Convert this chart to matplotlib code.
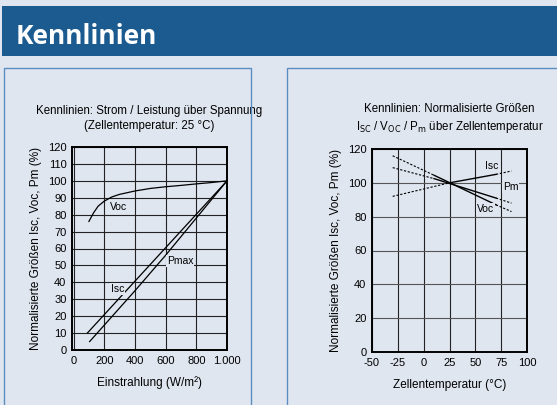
import numpy as np
import matplotlib.pyplot as plt
from matplotlib.patches import Rectangle

plt.rcParams['axes.unicode_minus'] = False

# Einstrahlung (W/m2) -> normalisierte Werte (%)
irr_voc = [100, 130, 160, 200, 250, 300, 400, 500, 600, 700, 800, 900, 1000]
voc = [76, 81, 85, 88, 90.5, 92, 94, 95.5, 96.5, 97.3, 98.2, 99, 100]
irr_isc = [90, 1000]
isc = [10, 100]
irr_pmax = [105, 400, 600, 800, 1000]
pmax = [5, 35, 56, 78, 100]

# Zellentemperatur (°C) -> normalisierte Werte (%)
t_isc_a = [-30, 25]
isc_a = [92, 100]
t_isc_b = [25, 70]
isc_b = [100, 105]
t_isc_c = [70, 85]
isc_c = [105, 107]
t_a = [-30, 10]
pm_a = [109, 102.5]
voc_a = [116, 104.5]
t_b = [10, 70]
pm_b = [102.5, 91]
voc_b = [104.5, 87]
t_c = [70, 85]
pm_c = [91, 88]
voc_c = [87, 83]

W, H = 557, 405
bg = '#dfe6f0'
blue = '#1c5b90'
border = '#5d8dc0'

fig = plt.figure(figsize=(W / 100, H / 100), dpi=100)
fig.patch.set_facecolor(bg)

def px(x, y, w, h):
    return [x / W, (H - y - h) / H, w / W, h / H]

# Kopfband
fig.patches.append(Rectangle((2 / W, 1 - 56 / H), 1, 50 / H, transform=fig.transFigure,
                             facecolor=blue, edgecolor='none'))
fig.text(16 / W, 1 - 37 / H, 'Kennlinien', color='white', fontsize=19, fontweight='bold',
         family='Open Sans', va='center', ha='left')

# Kästen
for x0, x1 in [(4, 251), (287, 600)]:
    fig.patches.append(Rectangle((x0 / W, -0.1), (x1 - x0) / W, 1.1 - 68 / H,
                                 transform=fig.transFigure, facecolor='none',
                                 edgecolor=border, linewidth=1.0))

fnt = 'Liberation Sans'
lbl_box = dict(facecolor=bg, edgecolor='none', pad=0.5)

# linkes Diagramm
ax1 = fig.add_axes(px(72, 147, 155, 203))
ax1.set_facecolor(bg)
ax1.plot(irr_voc, voc, color='black', lw=0.9)
ax1.plot(irr_isc, isc, color='black', lw=0.9)
ax1.plot(irr_pmax, pmax, color='black', lw=0.9)
ax1.set_xlim(-10, 1000)
ax1.set_ylim(0, 120)
ax1.set_xticks([0, 200, 400, 600, 800, 1000])
ax1.set_xticklabels(['0', '200', '400', '600', '800', '1.000'])
ax1.set_yticks(range(0, 121, 10))
ax1.grid(True, color='#222222', lw=0.8)
ax1.text(235, 84.5, 'Voc', fontsize=7.5, family=fnt, va='center', bbox=lbl_box)
ax1.text(245, 36, 'Isc', fontsize=7.5, family=fnt, va='center', bbox=lbl_box)
ax1.text(610, 52.5, 'Pmax', fontsize=7.5, family=fnt, va='center', bbox=lbl_box)
ax1.set_xlabel('Einstrahlung (W/m²)', family=fnt, fontsize=8.5, labelpad=8)
ax1.set_ylabel('Normalisierte Größen Isc, Voc, Pm (%)', family=fnt,
               fontsize=8.5, labelpad=4)
ax1.set_title('Kennlinien: Strom / Leistung über Spannung\n(Zellentemperatur: 25 °C)',
              family=fnt, fontsize=8.3, pad=13, linespacing=1.35)

# rechtes Diagramm
ax2 = fig.add_axes(px(372, 149, 155, 203))
ax2.set_facecolor(bg)
dash = (0, (2, 1.5))
ax2.plot(t_isc_a, isc_a, color='black', lw=0.8, ls=dash)
ax2.plot(t_isc_b, isc_b, color='black', lw=1.0)
ax2.plot(t_isc_c, isc_c, color='black', lw=0.8, ls=dash)
for ya, yb, yc in [(pm_a, pm_b, pm_c), (voc_a, voc_b, voc_c)]:
    ax2.plot(t_a, ya, color='black', lw=0.8, ls=dash)
    ax2.plot(t_b, yb, color='black', lw=1.0)
    ax2.plot(t_c, yc, color='black', lw=0.8, ls=dash)
ax2.set_xlim(-50, 100)
ax2.set_ylim(0, 120)
ax2.set_xticks([-50, -25, 0, 25, 50, 75, 100])
ax2.set_yticks(range(0, 121, 20))
ax2.grid(True, axis='x', color='#222222', lw=0.8)
ax2.grid(True, axis='y', color='#555555', lw=0.8)
ax2.text(66, 110, 'Isc', fontsize=7.5, family=fnt, ha='center', va='center', bbox=lbl_box)
ax2.text(84, 97.5, 'Pm', fontsize=7.5, family=fnt, ha='center', va='center', bbox=lbl_box)
ax2.text(60, 84.5, 'Voc', fontsize=7.5, family=fnt, ha='center', va='center', bbox=lbl_box)
ax2.set_xlabel('Zellentemperatur (°C)', family=fnt, fontsize=8.5, labelpad=8)
ax2.set_ylabel('Normalisierte Größen Isc, Voc, Pm (%)', family=fnt,
               fontsize=8.5, labelpad=4)
ax2.set_title('Kennlinien: Normalisierte Größen\n'
              r'I$_{\mathrm{SC}}$ / V$_{\mathrm{OC}}$ / P$_{\mathrm{m}}$ über Zellentemperatur',
              family=fnt, fontsize=8.3, pad=14, linespacing=1.35)

for ax in (ax1, ax2):
    for s in ax.spines.values():
        s.set_linewidth(1.4)
    ax.tick_params(length=0, pad=4)
    for lbl in ax.get_xticklabels() + ax.get_yticklabels():
        lbl.set_family(fnt)
        lbl.set_fontsize(8)

fig.savefig('out.png', dpi=100, facecolor=bg)
